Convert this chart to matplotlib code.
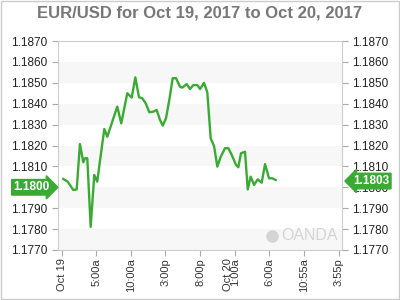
import matplotlib
matplotlib.use("Agg")
import matplotlib.pyplot as plt
from matplotlib.patches import Rectangle

# EUR/USD, hours since Oct 19 00:00
hours = [0.23, 0.87, 1.68, 2.17, 2.64, 3.12, 3.37, 3.70, 4.19, 4.71, 5.14, 5.39,
         6.16, 6.59, 8.03, 8.61, 9.48, 10.12, 10.64, 11.17, 11.65, 12.14, 12.66,
         13.24, 13.73, 14.21, 14.60, 15.07, 15.55, 16.04, 16.52, 17.10, 17.43,
         18.06, 18.54, 19.02, 19.60, 19.99, 20.56, 21.04, 21.53, 22.01, 22.49,
         22.98, 23.60, 24.08, 24.57, 25.19, 25.52, 25.91, 26.49, 26.88, 27.31,
         27.79, 28.32, 28.90, 29.38, 29.96, 30.43, 30.92]
price = [1.18040, 1.18027, 1.17987, 1.17990, 1.18207, 1.18120, 1.18139, 1.18139,
         1.17811, 1.18059, 1.18027, 1.18091, 1.18279, 1.18242, 1.18386, 1.18306,
         1.18450, 1.18429, 1.18526, 1.18431, 1.18426, 1.18402, 1.18359, 1.18362,
         1.18370, 1.18322, 1.18295, 1.18330, 1.18418, 1.18522, 1.18522, 1.18481,
         1.18477, 1.18494, 1.18470, 1.18489, 1.18489, 1.18470, 1.18500, 1.18455,
         1.18234, 1.18198, 1.18099, 1.18146, 1.18187, 1.18187, 1.18155, 1.18107,
         1.18096, 1.18163, 1.18170, 1.17990, 1.18051, 1.18011, 1.18038, 1.18022,
         1.18111, 1.18043, 1.18043, 1.18035]

tick_hours = [0, 5, 10, 15, 20, 25, 30, 35, 40]
tick_labels = ["Oct 19", "5:00a", "10:00a", "3:00p", "8:00p", "1:00a", "6:00a", "10:55a", "3:55p"]
y_ticks = [1.1770, 1.1780, 1.1790, 1.1800, 1.1810, 1.1820, 1.1830, 1.1840, 1.1850, 1.1860, 1.1870]
open_price = 1.1800
last_price = 1.1803

green = "#3aaa35"
plt.rcParams["font.family"] = ["Liberation Sans", "DejaVu Sans"]

fig = plt.figure(figsize=(4, 3), dpi=100)
ax = fig.add_axes([0.145, 0.1667, 0.71, 0.6966])

# alternating bands
for lo in [1.1770, 1.1790, 1.1810, 1.1830, 1.1850]:
    ax.axhspan(lo, lo + 0.001, color="#f7f7f7", zorder=0, lw=0)

ax.plot(hours, price, color=green, lw=1.7, zorder=3)

ax.set_xlim(-0.53, 40.5)
ax.set_ylim(1.1770, 1.1870)
ax.set_yticks(y_ticks)
ax.set_yticklabels([f"{v:.4f}" for v in y_ticks])
ax.set_xticks(tick_hours)
ax.set_xticklabels(tick_labels, rotation=90)
ax.tick_params(axis="y", left=True, right=True, labelleft=True, labelright=True,
               labelsize=8.5, color="#aaaaaa", length=4, width=0.8, labelcolor="#222222")
ax.tick_params(axis="x", labelsize=8, color="#aaaaaa", length=4, width=0.8,
               labelcolor="#333333", pad=2)
for s in ax.spines.values():
    s.set_color("#cccccc")
    s.set_linewidth(0.8)

# the left flag hides the 1.1800 label
ax.yaxis.get_major_ticks()[y_ticks.index(open_price)].label1.set_visible(False)

# second line under the 1:00a tick
ax.annotate("Oct 20", xy=(25, 0), xycoords=("data", "axes fraction"),
            xytext=(-5, -6), textcoords="offset points", rotation=90,
            ha="center", va="top", fontsize=8, color="#333333")

# watermark
ax.text(0.986, 0.035, "OANDA", transform=ax.transAxes, ha="right", va="bottom",
        fontsize=11.5, color="#d4d4d4", zorder=1)
ax.plot([0.755], [0.065], "o", transform=ax.transAxes, ms=8, color="#d4d4d4", zorder=1)

# price flags
ax.annotate(f"{open_price:.4f}", xy=(0, open_price), xycoords=("axes fraction", "data"),
            xytext=(-6, 0), textcoords="offset points", ha="right", va="center",
            fontsize=8.5, fontweight="bold", color="white",
            bbox=dict(boxstyle="rarrow,pad=0.15", fc=green, ec=green))
ax.annotate(f"{last_price:.4f}", xy=(1, last_price), xycoords=("axes fraction", "data"),
            xytext=(8, 0), textcoords="offset points", ha="left", va="center",
            fontsize=8.5, fontweight="bold", color="white",
            bbox=dict(boxstyle="larrow,pad=0.15", fc=green, ec=green))

fig.text(0.5, 0.955, "EUR/USD for Oct 19, 2017 to Oct 20, 2017", ha="center", va="center",
         fontsize=12, fontweight="bold", color="#777777")
fig.patches.append(Rectangle((0.002, 0.003), 0.996, 0.994, transform=fig.transFigure,
                             fill=False, ec="#cccccc", lw=1))

fig.savefig("out.png", dpi=100)
